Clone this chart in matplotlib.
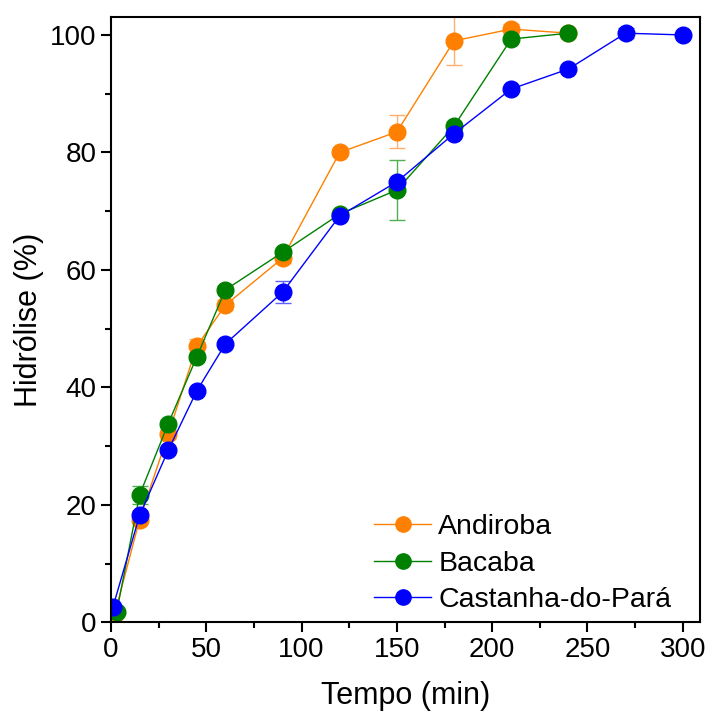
import matplotlib.pyplot as plt
from matplotlib.lines import Line2D
from matplotlib.ticker import MultipleLocator

plt.rcParams['font.family'] = ['Liberation Sans', 'DejaVu Sans']

# tempo (min) e hidrólise (%) de cada óleo
t_andiroba = [2, 15, 30, 45, 60, 90, 120, 150, 180, 210, 240]
h_andiroba = [1.5, 17.5, 32.0, 47.0, 54.0, 62.0, 80.0, 83.5, 99.0, 101.0, 100.3]
e_andiroba = [0.5, 0.5, 0.8, 1.2, 0.8, 0.8, 0.6, 2.8, 4.2, 0.8, 0.3]

t_bacaba = [3, 15, 30, 45, 60, 90, 120, 150, 180, 210, 240]
h_bacaba = [1.8, 21.7, 33.8, 45.2, 56.6, 63.0, 69.5, 73.6, 84.5, 99.3, 100.3]
e_bacaba = [0.5, 1.5, 0.6, 0.6, 0.6, 0.6, 0.6, 5.1, 0.6, 0.5, 0.3]

t_castanha = [1, 15, 30, 45, 60, 90, 120, 150, 180, 210, 240, 270, 300]
h_castanha = [2.6, 18.2, 29.3, 39.4, 47.4, 56.2, 69.2, 75.0, 83.2, 90.8, 94.2, 100.3, 100.0]
e_castanha = [0.5, 0.8, 0.5, 0.5, 0.5, 1.9, 0.5, 0.5, 0.5, 0.5, 0.5, 0.8, 0.3]

series = [
    ("Andiroba", t_andiroba, h_andiroba, e_andiroba, "#ff8000", "#ffb070"),
    ("Bacaba", t_bacaba, h_bacaba, e_bacaba, "#008000", "#50b050"),
    ("Castanha-do-Pará", t_castanha, h_castanha, e_castanha, "#0000ff", "#6060ff"),
]

fig, ax = plt.subplots(figsize=(7.07, 7.22), dpi=100)
fig.subplots_adjust(left=0.157, right=0.99, top=0.976, bottom=0.138)

handles = []
for name, t, h, e, c, ec in series:
    ax.errorbar(t, h, yerr=e, color=c, ecolor=ec, elinewidth=1, capsize=6,
                capthick=1, lw=1, marker='o', ms=12)
    handles.append(Line2D([], [], color=c, lw=1, marker='o', ms=11, label=name))

ax.set_xlim(0, 309)
ax.set_ylim(0, 103)
ax.xaxis.set_major_locator(MultipleLocator(50))
ax.xaxis.set_minor_locator(MultipleLocator(25))
ax.yaxis.set_major_locator(MultipleLocator(20))
ax.yaxis.set_minor_locator(MultipleLocator(10))
ax.tick_params(which='both', direction='out', width=1.5, labelsize=20, top=False, right=False)
ax.tick_params(which='major', length=7)
ax.tick_params(which='minor', length=4)
for s in ax.spines.values():
    s.set_linewidth(1.5)

ax.set_xlabel("Tempo (min)", fontsize=22, labelpad=13)
ax.set_ylabel("Hidrólise (%)", fontsize=22, labelpad=4)

ax.legend(handles=handles, loc='lower right', frameon=False, fontsize=20.5,
          handlelength=2.0, handletextpad=0.25, labelspacing=0.38,
          borderaxespad=0.3, bbox_to_anchor=(0.985, -0.018))

fig.savefig("out.png", dpi=100)
